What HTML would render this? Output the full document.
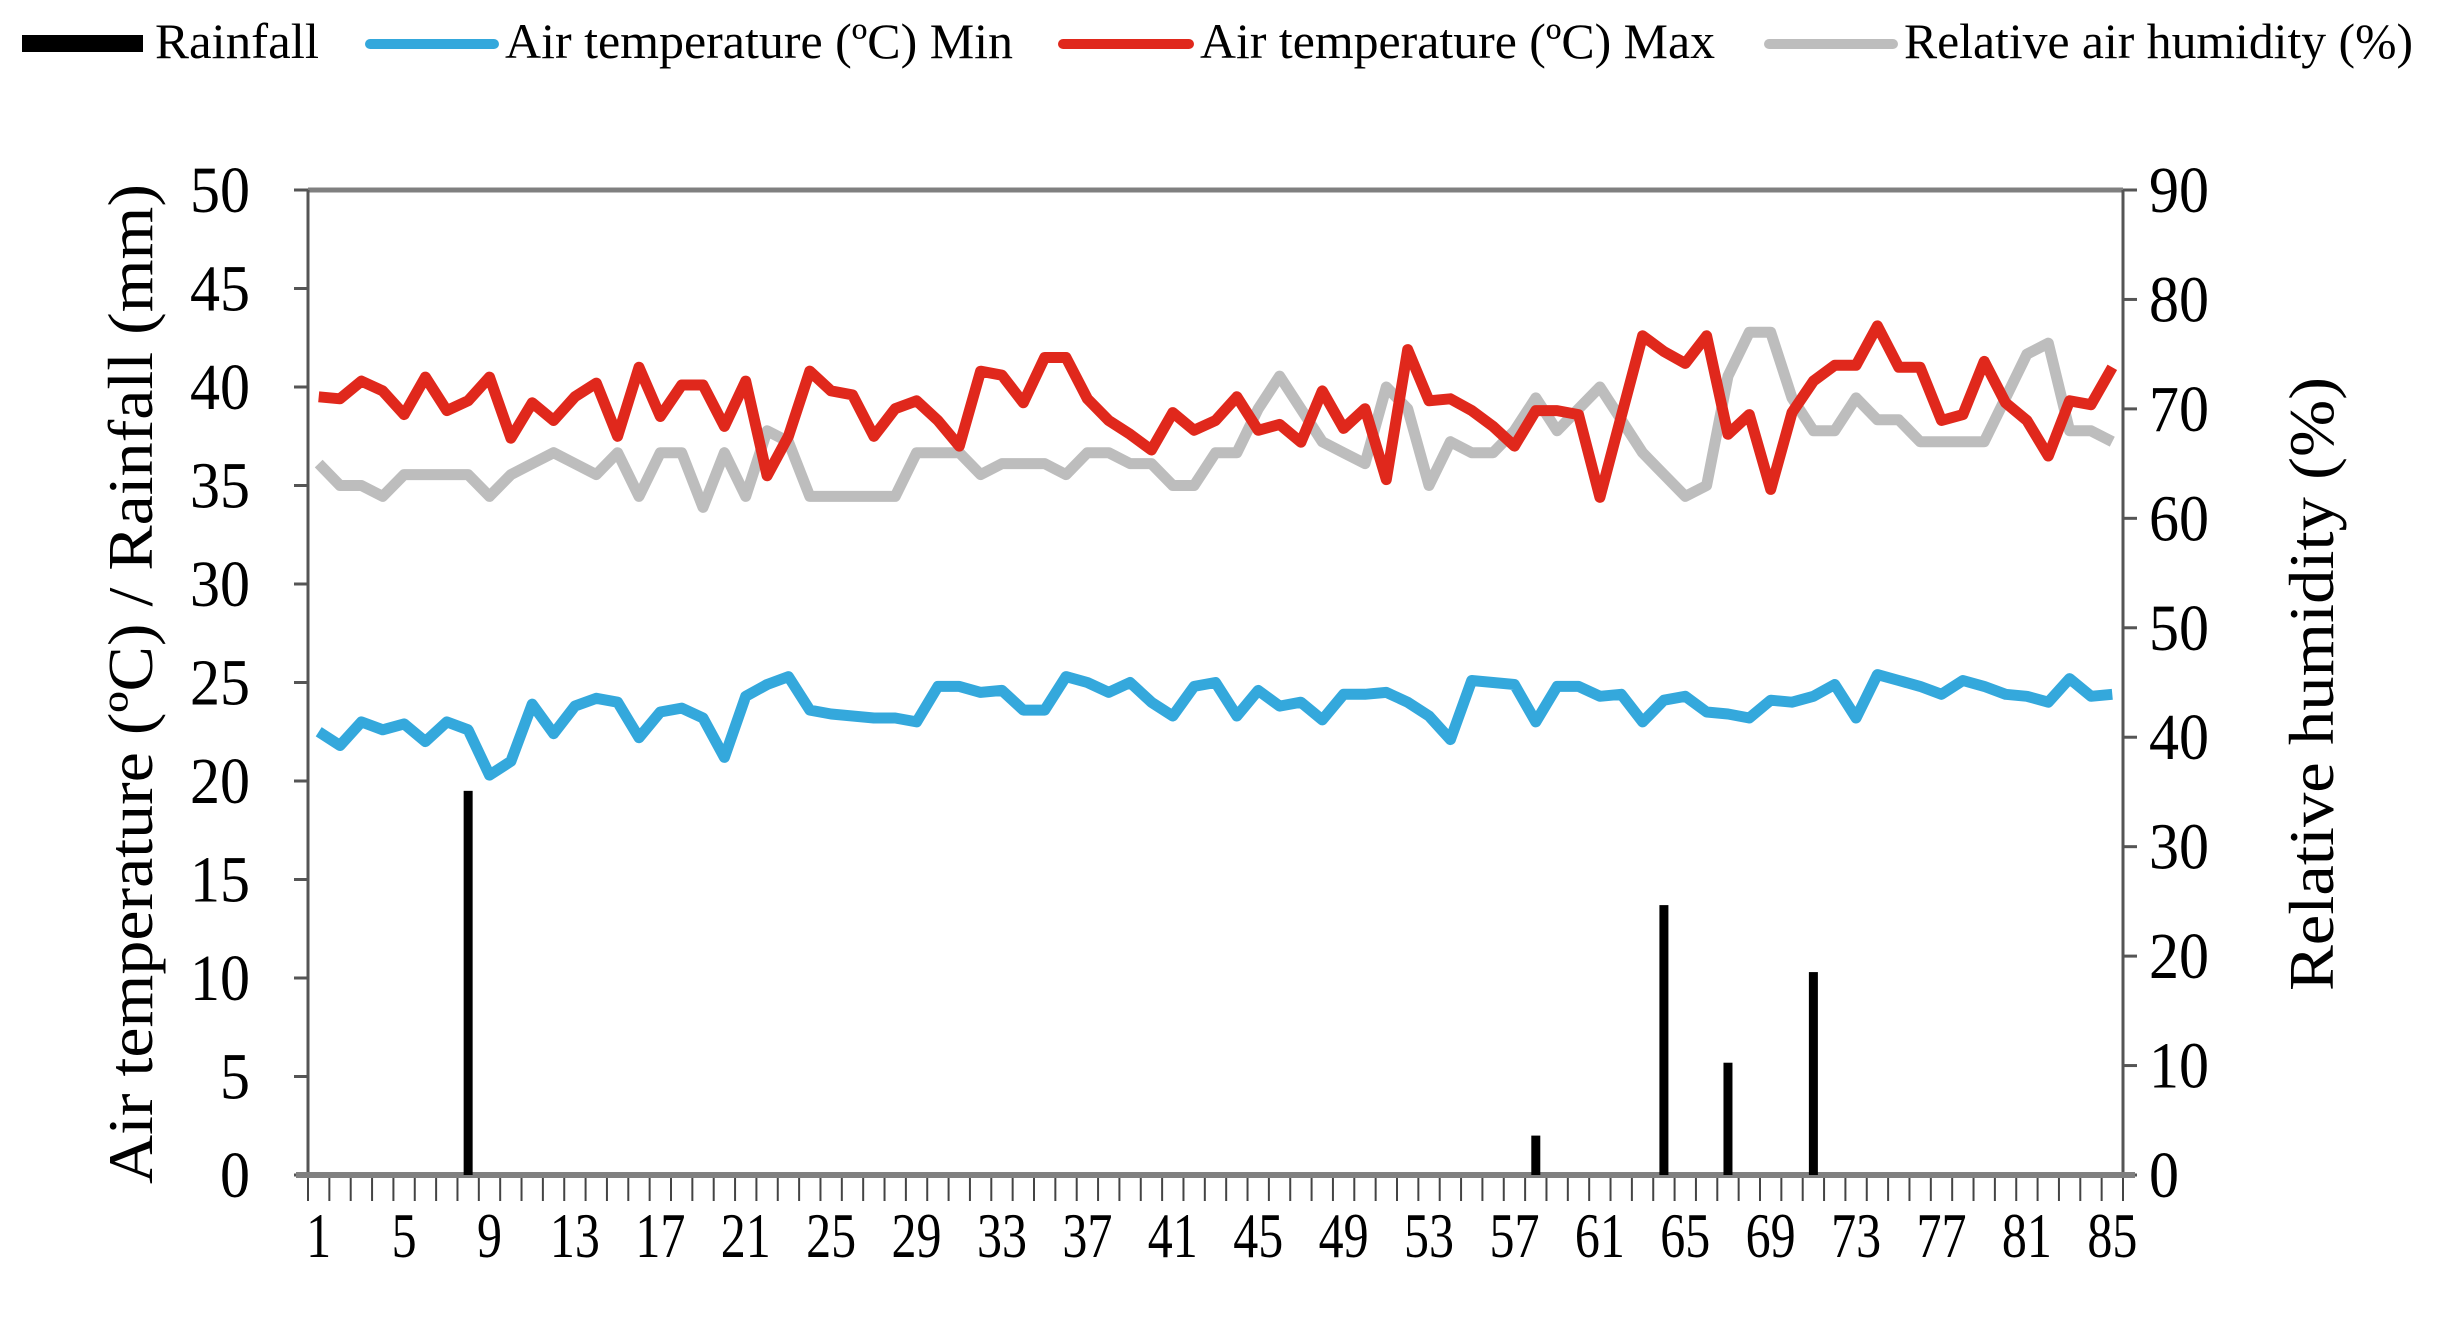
<!DOCTYPE html>
<html><head><meta charset="utf-8"><style>
html,body{margin:0;padding:0;background:#fff;}
svg{display:block;font-family:"Liberation Serif",serif;}
</style></head><body>
<svg id="chart" width="2437" height="1331" viewBox="0 0 2437 1331" xmlns="http://www.w3.org/2000/svg">
<g id="legend">
 <g><rect x="22" y="35" width="121" height="17" fill="#000"/><text x="155" y="58" font-size="50" textLength="164" lengthAdjust="spacingAndGlyphs">Rainfall</text></g>
 <g><line x1="370" y1="44" x2="494" y2="44" stroke="#34a8dc" stroke-width="10" stroke-linecap="round"/><text x="505" y="58" font-size="50" textLength="508" lengthAdjust="spacingAndGlyphs">Air temperature (ºC) Min</text></g>
 <g><line x1="1063" y1="44" x2="1189" y2="44" stroke="#e0281c" stroke-width="10" stroke-linecap="round"/><text x="1200" y="58" font-size="50" textLength="515" lengthAdjust="spacingAndGlyphs">Air temperature (ºC) Max</text></g>
 <g><line x1="1769" y1="44" x2="1893" y2="44" stroke="#bdbdbd" stroke-width="10" stroke-linecap="round"/><text x="1904" y="58" font-size="50" textLength="509" lengthAdjust="spacingAndGlyphs">Relative air humidity (%)</text></g>
</g>
<text transform="translate(152,684) rotate(-90)" text-anchor="middle" font-size="64" textLength="1000" lengthAdjust="spacingAndGlyphs">Air temperature (ºC) / Rainfall (mm)</text>
<text transform="translate(2333,684) rotate(-90)" text-anchor="middle" font-size="64" textLength="614" lengthAdjust="spacingAndGlyphs">Relative humidity (%)</text>
<g id="axes"></g>
<g id="marks"></g>
</svg>
<script>
const days = [];
for (let d = 1; d <= 85; d++) days.push(d);
const rainDays = [8, 58, 64, 67, 71];
const rainValues = [19.5, 2, 13.7, 5.7, 10.3];
const tempMin = [22.5,21.8,23,22.6,22.9,22,23,22.6,20.3,21,23.9,22.4,23.8,24.2,24,22.2,23.5,23.7,23.2,21.2,24.3,24.9,25.3,23.6,23.4,23.3,23.2,23.2,23,24.8,24.8,24.5,24.6,23.6,23.6,25.3,25,24.5,25,24,23.3,24.8,25,23.3,24.6,23.8,24,23.1,24.4,24.4,24.5,24,23.3,22.1,25.1,25,24.9,23,24.8,24.8,24.3,24.4,23,24.1,24.3,23.5,23.4,23.2,24.1,24,24.3,24.9,23.2,25.4,25.1,24.8,24.4,25.1,24.8,24.4,24.3,24,25.2,24.3,24.4];
const tempMax = [39.5,39.4,40.3,39.8,38.6,40.5,38.8,39.3,40.5,37.4,39.2,38.3,39.5,40.2,37.5,41,38.5,40.1,40.1,38,40.3,35.5,37.5,40.8,39.8,39.6,37.5,38.9,39.3,38.3,37,40.8,40.6,39.2,41.5,41.5,39.4,38.3,37.6,36.8,38.7,37.8,38.3,39.5,37.8,38.1,37.2,39.8,37.9,38.9,35.3,41.9,39.3,39.4,38.8,38,37,38.8,38.8,38.6,34.4,38.5,42.6,41.8,41.2,42.6,37.6,38.6,34.8,38.7,40.3,41.1,41.1,43.1,41,41,38.3,38.6,41.3,39.2,38.3,36.5,39.3,39.1,41];
const humidity = [65,63,63,62,64,64,64,64,62,64,65,66,65,64,66,62,66,66,61,66,62,68,67,62,62,62,62,62,66,66,66,64,65,65,65,64,66,66,65,65,63,63,66,66,70,73,70,67,66,65,72,70,63,67,66,66,68,71,68,70,72,69,66,64,62,63,73,77,77,71,68,68,71,69,69,67,67,67,67,71,75,76,68,68,67];
const leftTicks = [0,5,10,15,20,25,30,35,40,45,50];
const rightTicks = [0,10,20,30,40,50,60,70,80,90];
const xTickLabels = [1,5,9,13,17,21,25,29,33,37,41,45,49,53,57,61,65,69,73,77,81,85];

const NS = "http://www.w3.org/2000/svg";
const L = 308, R = 2123, T = 190, B = 1175;
const band = (R - L) / days.length;
function x(d){ return L + (d - 0.5) * band; }
function yL(v){ return B - (v / 50) * (B - T); }
function yR(v){ return B - (v / 90) * (B - T); }
function mk(tag, attrs, parent){ const e = document.createElementNS(NS, tag); for (const k in attrs) e.setAttribute(k, attrs[k]); parent.appendChild(e); return e; }
const axes = document.getElementById('axes');
const marks = document.getElementById('marks');

let e;
e = mk('line', {x1:L, y1:T, x2:R, y2:T, stroke:'#808080', 'stroke-width':5}, axes);


e = mk('line', {x1:L, y1:T, x2:L, y2:B, stroke:'#555', 'stroke-width':3}, axes);


e = mk('line', {x1:R, y1:T, x2:R, y2:B, stroke:'#555', 'stroke-width':3}, axes);



leftTicks.forEach(v => {
  const t = mk('line', {x1:L-14, y1:yL(v), x2:L, y2:yL(v), stroke:'#555', 'stroke-width':3}, axes);
  
  
  const s = String(v);
  const lab = mk('text', {x:L-58, y:yL(v)+22, 'text-anchor':'end', 'font-size':66, textLength: s.length*30, lengthAdjust:'spacingAndGlyphs'}, axes);
  lab.textContent = s;
  
  
});
rightTicks.forEach(v => {
  const t = mk('line', {x1:R, y1:yR(v), x2:R+14, y2:yR(v), stroke:'#555', 'stroke-width':3}, axes);
  
  
  const s = String(v);
  const lab = mk('text', {x:R+26, y:yR(v)+22, 'font-size':66, textLength: s.length*30, lengthAdjust:'spacingAndGlyphs'}, axes);
  lab.textContent = s;
  
  
});
for (let i = 0; i <= days.length; i++) {
  const t = mk('line', {x1:L+i*band, y1:B, x2:L+i*band, y2:B+26, stroke:'#444', 'stroke-width':2}, axes);
  
  
}
xTickLabels.forEach(d => {
  const s = String(d);
  const lab = mk('text', {x:x(d), y:B+82, 'text-anchor':'middle', 'font-size':64, textLength: s.length*25, lengthAdjust:'spacingAndGlyphs'}, axes);
  lab.textContent = s;
  
  
});

rainDays.forEach((d, i) => {
  const v = rainValues[i];
  const r = mk('rect', {x:x(d)-4.5, y:yL(v), width:9, height:B-yL(v), fill:'#000'}, marks);
  
  
});
function line(vals, fy, color, name){
  const pts = vals.map((v, i) => x(days[i]).toFixed(1) + ',' + fy(v).toFixed(1)).join(' ');
  const p = mk('polyline', {points:pts, fill:'none', stroke:color, 'stroke-width':11, 'stroke-linejoin':'round'}, marks);
  
  
}
line(humidity, yR, '#bdbdbd', 'humidity-line');
line(tempMax, yL, '#e0281c', 'temp-max-line');
line(tempMin, yL, '#34a8dc', 'temp-min-line');

e = mk('line', {x1:L-12, y1:B, x2:R+12, y2:B, stroke:'#808080', 'stroke-width':6}, axes);


</script>
</body></html>
